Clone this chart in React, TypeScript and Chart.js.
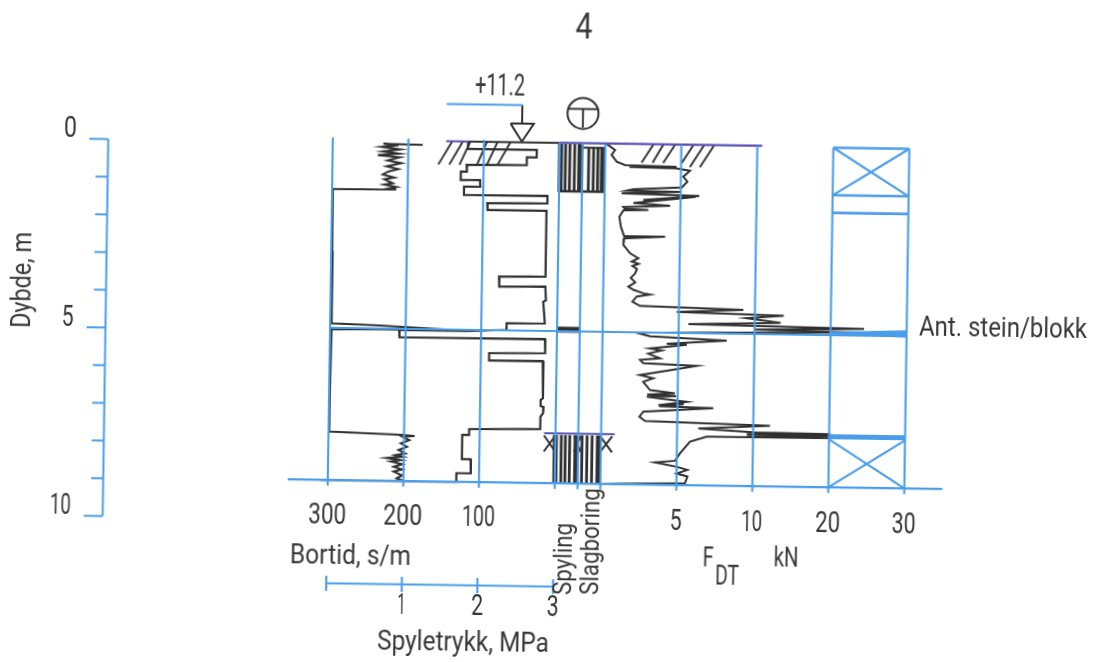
import React, { useEffect, useRef } from "react";
import { Chart, registerables } from "chart.js";

Chart.register(...registerables);

// ---- data ----
const depthTicks = [0, 1, 2, 3, 4, 5, 6, 7, 8, 9, 10];
const depthLabels = [0, 5, 10];
const bortidTicks = [300, 200, 100];
const pressureTicks = [0, 1, 2, 3];
const pressureLabels = [1, 2, 3];
const fdtTicks = [5, 10, 20, 30];

const bortidValues = [181, 233, 213, 235, 211, 233, 213, 240, 211, 227, 209, 228, 213, 226, 233, 218, 231, 220, 231, 215, 229, 215, 299, 298.5, 298, 234, 119, 234, 298, 299, 299, 203, 186, 202, 193, 204, 196, 207, 198, 211, 202, 222, 204, 217, 202, 213, 202, 213, 202, 209, 200];
const bortidDepths = [0.11, 0.095, 0.13, 0.18, 0.24, 0.3, 0.35, 0.4, 0.45, 0.54, 0.61, 0.7, 0.77, 0.84, 0.92, 1.0, 1.05, 1.15, 1.19, 1.25, 1.31, 1.32, 1.33, 3.0, 4.94, 4.98, 5.09, 5.08, 5.1, 7.0, 7.85, 7.91, 7.94, 7.96, 8.05, 8.14, 8.23, 8.32, 8.41, 8.46, 8.5, 8.54, 8.59, 8.63, 8.7, 8.77, 8.84, 8.9, 9.0, 9.08, 9.15];

const pressureValues = [1.79, 1.79, 2.7, 2.7, 2.57, 2.57, 1.775, 1.78, 1.7, 1.7, 1.955, 1.96, 1.745, 1.745, 2.85, 2.85, 2.055, 2.06, 2.84, 2.84, 2.225, 2.23, 2.84, 2.85, 2.815, 2.84, 2.335, 2.335, 1.81, 0.915, 0.92, 2.845, 2.85, 2.11, 2.11, 2.82, 2.83, 2.8, 2.8, 2.84, 2.835, 2.8, 2.8, 1.86, 1.86, 1.77, 1.77, 1.885, 1.89, 1.7, 1.7, -0.1];
const pressureDepths = [0, 0.2, 0.2, 0.4, 0.4, 0.61, 0.63, 0.81, 0.81, 1.04, 1.03, 1.21, 1.215, 1.44, 1.43, 1.63, 1.65, 1.83, 1.83, 3.6, 3.62, 3.89, 3.87, 4.24, 4.28, 4.86, 4.87, 5.05, 5.09, 5.09, 5.29, 5.28, 5.66, 5.68, 5.88, 5.87, 6.87, 6.92, 7.08, 7.11, 7.27, 7.37, 7.7, 7.73, 7.89, 7.89, 8.54, 8.54, 8.92, 8.92, 9.15, 9.15];

const fdtValues = [0.09, 0.64, 0.42, 0.76, 1.31, 4.71, 1.6, 4.7, 5.59, 5.16, 5.43, 5.07, 1.88, 1.45, 5.0, 1.12, 6.23, 2.55, 6.0, 1.9, 4.32, 1.24, 1.36, 2.89, 1.25, 0.99, 1.1, 1.32, 4.02, 1.33, 1.29, 1.73, 2.28, 1.85, 2.3, 1.9, 2.2, 2.08, 1.8, 2.1, 1.65, 1.98, 2.64, 3.09, 2.21, 1.93, 2.43, 9.24, 4.86, 13.8, 9.47, 13.4, 5.64, 24.4, 10, 24, 2.24, 3.12, 8.17, 4.23, 5.55, 3.13, 3.91, 3.03, 3.8, 2.49, 2.71, 6.22, 2.5, 3.38, 2.72, 3.18, 4.82, 3.0, 4.9, 2.97, 5.6, 3.74, 5.4, 3.8, 7.36, 2.76, 2.5, 2.88, 12.2, 6.39, 10.05, 20.2, 9.58, 20.4, 9.6, 20.4, 6.95, 5.85, 5.21, 4.89, 3.57, 5.01, 5.71, 5.01, 5.72, 5.56, 0];
const fdtDepths = [0.01, 0.17, 0.3, 0.48, 0.57, 0.6, 0.62, 0.64, 0.7, 0.86, 0.995, 1.15, 1.22, 1.26, 1.27, 1.33, 1.37, 1.5, 1.4, 1.59, 1.65, 1.7, 1.75, 1.77, 1.79, 1.96, 2.23, 2.48, 2.48, 2.54, 2.72, 2.94, 3.07, 3.16, 3.22, 3.28, 3.36, 3.48, 3.6, 3.72, 3.84, 3.92, 4.01, 4.04, 4.1, 4.24, 4.35, 4.42, 4.5, 4.56, 4.64, 4.75, 4.82, 4.88, 4.94, 4.98, 5.07, 5.16, 5.25, 5.36, 5.38, 5.49, 5.54, 5.63, 5.75, 5.8, 5.89, 5.94, 6.21, 6.29, 6.39, 6.61, 6.69, 6.73, 6.76, 6.79, 6.91, 7.01, 6.98, 7.04, 7.07, 7.19, 7.33, 7.44, 7.52, 7.62, 7.7, 7.72, 7.76, 7.78, 7.81, 7.83, 7.84, 7.98, 8.3, 8.5, 8.55, 8.66, 8.74, 8.84, 8.92, 9.1, 9.15];

const hatchPressureTop = [1.58, 1.72, 1.82, 2.04, 2.18, 2.35];
const hatchPressureBottom = [1.4, 1.545, 1.68, 1.91, 2.04, 2.18];
const hatchFdtTop = [3.17, 3.82, 4.59, 5.8, 6.5, 7.16];
const hatchFdtBottom = [2.4, 3.12, 3.82, 5.03, 5.58, 6.24];
const hatchFdtEnd = [0.5, 0.5, 0.5, 0.5, 0.6, 0.6];

const topStripes = [0.26, 0.45, 0.66, 1.28, 1.49, 1.68];
const topStripesThick = [0.04, 0.92, 1.89];
const bottomStripes = [0.26, 0.44, 0.63, 1.17, 1.39, 1.61];
const bottomStripesThick = [0.0, 0.91, 1.89];
const stoneDots = [0.15, 0.33, 0.5, 0.67, 0.85];

const TEXT = "#383838";
const INK = "#303030";
const BLUE = "#4a9dea";
const PURPLE = "#5750b4";
const FONT = 'Roboto, "Liberation Sans", sans-serif';
const ROT = 0.0148; // the scanned sheet is slightly rotated
const CX = 547.5;
const CY = 331;

// two-part kN axis: 0-10 at full scale, 10-30 at half scale
const fAxis = (v: number) => (v <= 10 ? v : 10 + (v - 10) / 2);

const pts = (xs: number[], ys: number[]) => xs.map((x, i) => ({ x, y: ys[i] }));

function line(xs: number[], ys: number[], xAxisID: string, yAxisID: string, color: string, width: number) {
  return {
    data: pts(xs, ys), xAxisID, yAxisID, borderColor: color, backgroundColor: color,
    borderWidth: width, showLine: true, pointRadius: 0, tension: 0, borderJoinStyle: "miter" as const, borderCapStyle: "butt" as const,
  };
}

function buildDatasets() {
  const d: any[] = [];
  const blue = (xs: number[], ys: number[], ax = "xM", w = 2.1) => d.push(line(xs, ys, ax, "yP", BLUE, w));
  const ink = (xs: number[], ys: number[], ax = "xM", w = 2) => d.push(line(xs, ys, ax, "yP", INK, w));

  // frame
  [300, 200, 100].forEach((v) => blue([v, v], [-0.05, 9.3], "xB"));
  [0, 1, 2].forEach((v) => blue([v, v], [0, 9.3], "xC"));
  [5, 10].forEach((v) => blue([v, v], [0, 9.3], "xF"));
  [20, 30].forEach((v) => blue([fAxis(v), fAxis(v)], [0.02, 9.3], "xF"));
  blue([-0.53, 8.13], [9.15, 9.15]);
  blue([0, 7.63], [5.06, 5.06]);

  // right hand column
  const f20 = fAxis(20), f30 = fAxis(30);
  blue([f20, f30], [0.02, 0.02], "xF", 2.4);
  blue([f20, f30], [1.3, 1.3], "xF", 2.4);
  blue([f20, f30], [1.77, 1.77], "xF", 2.8);
  blue([f20, f30], [0.02, 1.3], "xF", 2.2);
  blue([f20, f30], [1.3, 0.02], "xF", 2.2);
  blue([f20, f30], [5.0, 4.93], "xF", 2.2);
  blue([f20, f30], [5.0, 5.07], "xF", 2.2);
  blue([fAxis(24), f30], [5.0, 5.0], "xF", 3.5);
  blue([f20, f30], [7.79, 7.79], "xF", 5);
  blue([f20, f30], [7.86, 9.15], "xF", 2.2);
  blue([f20, f30], [9.15, 7.86], "xF", 2.2);

  // depth scale on the left
  d.push(line([-2.97, -2.97], [0, 10], "xM", "yL", BLUE, 2));
  depthTicks.forEach((t) => {
    const left = t % 5 === 0 ? -3.22 : -3.13;
    d.push(line([left, -2.97], [t, t], "xM", "yL", BLUE, 2));
  });

  // pressure scale
  blue([0, 3], [11.93, 11.93]);
  pressureTicks.forEach((t) => blue([t, t], [11.73, 12.13]));

  // level marker
  blue([1.5, 2.5], [-1.0, -1.0]);
  ink([2.5, 2.5], [-1.0, -0.5]);
  ink([2.348, 2.656, 2.5, 2.348], [-0.5, -0.5, -0.02, -0.5]);
  d.push({
    data: [{ x: 1, y: -0.8 }], xAxisID: "xC", yAxisID: "yP", showLine: false,
    pointRadius: 15.5, pointBorderColor: INK, pointBackgroundColor: "rgba(0,0,0,0)", pointBorderWidth: 2,
  });
  d.push(line([0.32, 1.68], [-0.92, -0.92], "xC", "yP", INK, 1.9));
  d.push(line([1, 1], [-0.92, -0.42], "xC", "yP", INK, 1.9));

  // surface line
  d.push(line([1.5, 1.8], [0, 0], "xM", "yP", PURPLE, 2));
  ink([1.8, 3.0], [0, 0], "xM", 2.1);
  d.push(line([3.0, 5.68], [0, 0], "xM", "yP", PURPLE, 2.3));
  d.push(line([-0.5, 2.6], [7.81, 7.81], "xC", "yP", PURPLE, 2.2));
  hatchPressureTop.forEach((t, i) => ink([t, hatchPressureBottom[i]], [0, 0.63], "xM", 1.9));
  hatchFdtTop.forEach((t, i) => ink([t, hatchFdtBottom[i]], [0, hatchFdtEnd[i]], "xF", 1.9));

  // drilling method columns
  topStripes.forEach((s) => d.push(line([s, s], [s > 1 ? 0.1 : 0.02, 1.32], "xC", "yP", INK, 2.8)));
  topStripesThick.forEach((s, i) => d.push(line([s, s], [i === 2 ? 0.1 : 0.02, 1.32], "xC", "yP", INK, i === 1 ? 6 : 5)));
  d.push(line([0, 2], [1.3, 1.3], "xC", "yP", INK, 2.4));
  d.push(line([1, 2], [0.12, 0.12], "xC", "yP", INK, 2));
  bottomStripes.forEach((s) => d.push(line([s, s], [7.85, 9.15], "xC", "yP", INK, 2.8)));
  bottomStripesThick.forEach((s) => d.push(line([s, s], [7.85, 9.15], "xC", "yP", INK, 5)));
  [[-0.5, 0], [0.82, 1.12], [1.96, 2.49]].forEach(([a, b]) => {
    d.push(line([a, b], [7.87, 8.3], "xC", "yP", INK, 2));
    d.push(line([a, b], [8.3, 7.87], "xC", "yP", INK, 2));
  });
  d.push(line([-0.04, 1], [5.02, 5.02], "xC", "yP", INK, 6));
  d.push({
    data: stoneDots.map((x) => ({ x, y: 5.02 })), xAxisID: "xC", yAxisID: "yP", showLine: false,
    pointRadius: 1.6, pointStyle: "rect", pointBackgroundColor: "#ffffff", pointBorderWidth: 0,
  });

  // measured curves
  ink(bortidValues, bortidDepths, "xB", 2.1);
  ink(pressureValues, pressureDepths, "xM", 2.2);
  ink(fdtValues.map(fAxis), fdtDepths, "xF", 2);
  return d;
}

type Label = { t: string; x: number; y: number; size: number; w?: number; rot?: number };

// page coordinates of the free-standing texts
const freeLabels: Label[] = [
  { t: "4", x: 584, y: 30, size: 36, w: 17 },
  { t: "+11.2", x: 500, y: 88, size: 31, w: 50 },
  { t: "Dybde, m", x: 24, y: 280, size: 28, w: 96, rot: -Math.PI / 2 },
  { t: "Bortid, s/m", x: 350.5, y: 557, size: 28, w: 121 },
  { t: "Spyletrykk, MPa", x: 463, y: 644, size: 28, w: 172 },
  { t: "Spyling", x: 565, y: 559, size: 25, w: 72, rot: -Math.PI / 2 },
  { t: "Slagboring", x: 592, y: 541.5, size: 26, w: 107, rot: -Math.PI / 2 },
  { t: "F", x: 708, y: 560, size: 27, w: 11 },
  { t: "DT", x: 727, y: 578, size: 27, w: 24 },
  { t: "kN", x: 786, y: 560, size: 27, w: 25 },
  { t: "Ant. stein/blokk", x: 1003, y: 330, size: 27, w: 168 },
];

const tickWidths: Record<string, number> = { "1": 8, "2": 12, "3": 12, "5": 12, "0": 13, "10": 21, "20": 25, "30": 24, "100": 33, "200": 39, "300": 38 };

const textPlugin = {
  id: "sheetText",
  afterDatasetsDraw(chart: any) {
    const ctx = chart.ctx as CanvasRenderingContext2D;
    const draw = (l: Label) => {
      ctx.save();
      ctx.font = `${l.size}px ${FONT}`;
      ctx.fillStyle = TEXT;
      ctx.textAlign = "center";
      ctx.textBaseline = "middle";
      ctx.translate(l.x, l.y);
      if (l.rot) ctx.rotate(l.rot);
      if (l.w) ctx.scale(l.w / ctx.measureText(l.t).width, 1);
      ctx.fillText(l.t, 0, 0);
      ctx.restore();
    };
    // free texts are given in page coordinates: undo the sheet rotation
    freeLabels.forEach((l) => {
      const dx = l.x - CX, dy = l.y - CY;
      draw({ ...l, x: CX + dx + dy * ROT, y: CY - dx * ROT + dy });
    });
    const s = chart.scales;
    const tick = (v: number, x: number, y: number) => draw({ t: String(v), x, y, size: 29, w: tickWidths[String(v)] });
    bortidTicks.forEach((v) => tick(v, s.xB.getPixelForValue(v), 520));
    pressureLabels.forEach((v) => tick(v, s.xM.getPixelForValue(v), 608.5));
    fdtTicks.forEach((v) => tick(v, s.xF.getPixelForValue(fAxis(v)), 521));
    depthLabels.forEach((v) => tick(v, v === 10 ? 63 : 67.5, s.yL.getPixelForValue(v) - 8.5));
  },
};

function hidden(min: number, max: number, reverse = false) {
  return { type: "linear" as const, min, max, reverse, display: false };
}

export default function App() {
  const ref = useRef<HTMLCanvasElement>(null);
  useEffect(() => {
    document.body.style.margin = "0";
    const chart = new Chart(ref.current!, {
      type: "scatter",
      data: { datasets: buildDatasets() },
      options: {
        responsive: false,
        animation: false,
        layout: { padding: 0, autoPadding: false },
        plugins: { legend: { display: false }, tooltip: { enabled: false }, title: { display: false } },
        scales: {
          xM: hidden(-330 / 75.6, 765 / 75.6),
          xB: hidden(300 - 765 / 0.756, 300 + 330 / 0.756, true),
          xC: hidden(-557 / 22.8, 538 / 22.8),
          xF: hidden(-602.6 / 15.2, 492.4 / 15.2),
          yP: hidden(-142.7 / 37.2, 519.3 / 37.2, true),
          yL: hidden(-145.6 / 37.7, 516.4 / 37.7, true),
        },
      },
      plugins: [textPlugin],
    } as any);
    return () => chart.destroy();
  }, []);
  return (
    <div style={{ position: "fixed", left: 0, top: 0, width: 1095, height: 662, overflow: "hidden", background: "#fff" }}>
      <canvas
        ref={ref}
        width={1095}
        height={662}
        style={{ display: "block", width: 1095, height: 662, transform: "rotate(0.85deg)", transformOrigin: "547.5px 331px" }}
      />
    </div>
  );
}
